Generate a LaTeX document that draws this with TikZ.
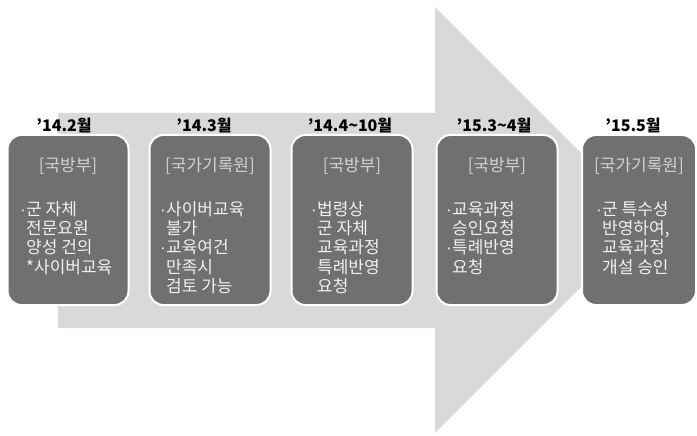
\documentclass[tikz,border=0pt]{standalone}
\usepackage{fontspec}
\setmainfont{Noto Sans CJK KR}
\newfontfamily\latinfont{Liberation Sans}
\usetikzlibrary{positioning}

\definecolor{arrowgray}{HTML}{D9D9D9}
\definecolor{boxgray}{HTML}{707070}
\newcommand{\bul}{\makebox[6pt][l]{\latinfont ·}}
\newcommand{\ind}{\hspace*{6pt}}

\begin{document}
\begin{tikzpicture}[x=1pt,y=-1pt]

\tikzset{box/.style = {shape=rectangle,rounded corners=14pt,fill=boxgray,draw=white,line width=2pt,minimum width=121pt,minimum height=170pt,inner sep=0pt}}
\tikzset{date/.style = {font=\fontsize{16}{18}\selectfont\bfseries,inner sep=1pt}}
\tikzset{head/.style = {font=\fontsize{17}{19}\selectfont,text=black!18,inner sep=0pt}}
\tikzset{body/.style = {font=\fontsize{17}{19.3}\selectfont,text=black!6,align=left,inner sep=0pt,anchor=north west}}

\useasboundingbox (0,0) rectangle (697,436);

% arrow
\fill[arrowgray] (58,113) -- (435,113) -- (435,7) -- (648,220) -- (435,433) -- (435,328) -- (58,328) -- cycle;

% boxes
\node[box] (b1) at (68,220) {};
\node[box] (b2) at (210,220) {};
\node[box] (b3) at (352,220) {};
\node[box] (b4) at (497,220) {};
\node[box, minimum width=114pt] (b5) at (639,220) {};

% dates
\node[date, above=0pt of b1, xshift=-4pt] (d1) {’14.2월};
\node[date, above=0pt of b2, xshift=-6pt] (d2) {’14.3월};
\node[date, above=0pt of b3, xshift=-2pt] (d3) {’14.4\textasciitilde10월};
\node[date, above=0pt of b4, xshift=-3pt] (d4) {’15.3\textasciitilde4월};
\node[date, above=0pt of b5, xshift=-6pt] (d5) {’15.5월};

% headings
\node[head, below=23pt of b1.north] (h1) {[국방부]};
\node[head, below=23pt of b2.north] (h2) {[국가기록원]};
\node[head, below=23pt of b3.north] (h3) {[국방부]};
\node[head, below=23pt of b4.north] (h4) {[국방부]};
\node[head, below=23pt of b5.north] (h5) {[국가기록원]};

% texts
\node[body] (t1) at (20,201) {\bul 군 자체\\\ind 전문요원\\\ind 양성 건의\\\ind *사이버교육};
\node[body] (t2) at (160,201) {\bul 사이버교육\\\ind 불가\\\bul 교육여건\\\ind 만족시\\\ind 검토 가능};
\node[body] (t3) at (311,201) {\bul 법령상\\\ind 군 자체\\\ind 교육과정\\\ind 특례반영\\\ind 요청};
\node[body] (t4) at (446,201) {\bul 교육과정\\\ind 승인요청\\\bul 특례반영\\\ind 요청};
\node[body] (t5) at (596,201) {\bul 군 특수성\\\ind 반영하여,\\\ind 교육과정\\\ind 개설 승인};

\end{tikzpicture}
\end{document}
